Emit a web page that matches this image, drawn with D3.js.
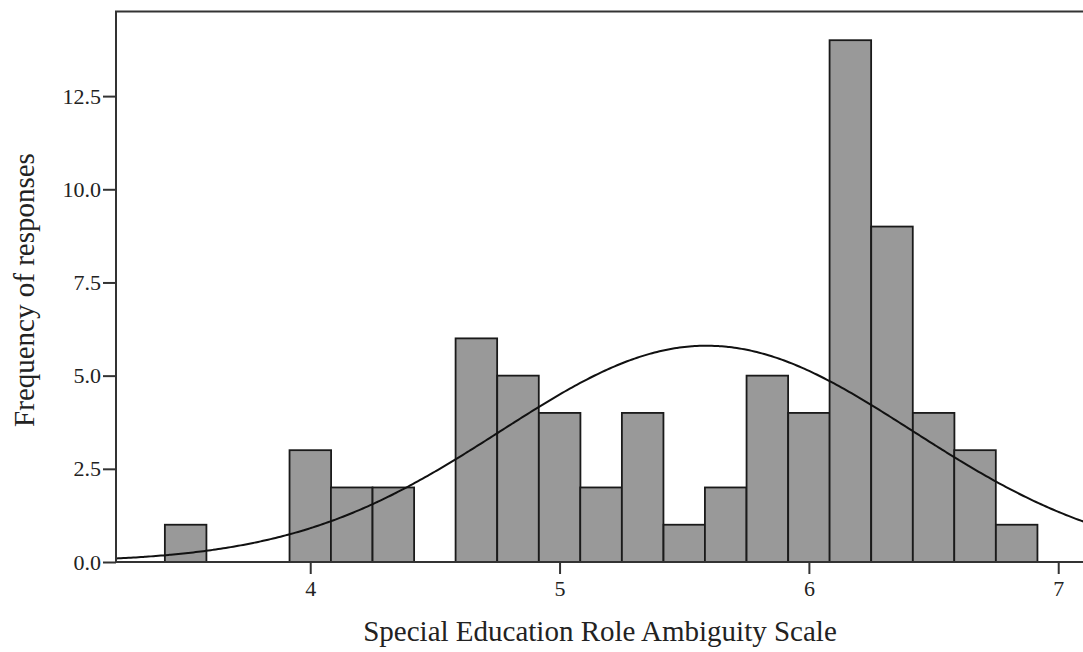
<!DOCTYPE html>
<html>
<head>
<meta charset="utf-8">
<script src="https://cdn.jsdelivr.net/npm/d3@7"></script>
<style>
  body { margin: 0; background: #fff; }
  svg text { font-family: "Liberation Serif", "Times New Roman", serif; fill: #222; }
</style>
</head>
<body>
<div id="chart-area"></div>
<script>
// histogram bins (lower edge of each bin) and counts
const binStarts = [3.417, 3.917, 4.083, 4.25, 4.583, 4.75, 4.917, 5.083, 5.25,
                   5.417, 5.583, 5.75, 5.917, 6.083, 6.25, 6.417, 6.583, 6.75];
const counts = [1, 3, 2, 2, 6, 5, 4, 2, 4, 1, 2, 5, 4, 14, 9, 4, 3, 1];
const binWidth = 1 / 6;

// fitted normal curve
const fitMean = 5.59;
const fitSd = 0.825;
const fitN = 72;

const xTicks = [4, 5, 6, 7];
const yTicks = [0, 2.5, 5, 7.5, 10, 12.5];

const width = 1083;
const height = 652;
const margin = { left: 116, right: -6, top: 11.5, bottom: 90 };
const chartWidth = width - margin.left - margin.right;
const chartHeight = height - margin.top - margin.bottom;

const svg = d3.select('#chart-area')
    .append('svg')
    .attr('width', width)
    .attr('height', height);

const g = svg.append('g')
    .attr('transform', `translate(${margin.left}, ${margin.top})`);

const x = d3.scaleLinear()
    .domain([3.221, 3.221 + chartWidth / 249.33])
    .range([0, chartWidth]);

const y = d3.scaleLinear()
    .domain([0, 14.77])
    .range([chartHeight, 0]);

const bins = binStarts.map((b, i) => ({ x0: b, x1: b + binWidth, n: counts[i] }));

g.selectAll('rect.bar')
    .data(bins)
    .enter()
    .append('rect')
    .attr('class', 'bar')
    .attr('x', d => x(d.x0))
    .attr('y', d => y(d.n))
    .attr('width', d => x(d.x1) - x(d.x0))
    .attr('height', d => chartHeight - y(d.n))
    .attr('fill', '#999999')
    .attr('stroke', '#1a1a1a')
    .attr('stroke-width', 1.8);

// normal curve
const curveX = d3.range(x.domain()[0], x.domain()[1] + 0.01, 0.01);
const dens = v => fitN * binWidth / (fitSd * Math.sqrt(2 * Math.PI)) *
    Math.exp(-0.5 * Math.pow((v - fitMean) / fitSd, 2));

g.append('path')
    .datum(curveX)
    .attr('fill', 'none')
    .attr('stroke', '#111')
    .attr('stroke-width', 2)
    .attr('d', d3.line().x(d => x(d)).y(d => y(dens(d))).curve(d3.curveBasis));

// frame
g.append('rect')
    .attr('x', 0)
    .attr('y', 0)
    .attr('width', chartWidth)
    .attr('height', chartHeight)
    .attr('fill', 'none')
    .attr('stroke', '#333')
    .attr('stroke-width', 2);

const xAxis = d3.axisBottom(x)
    .tickValues(xTicks)
    .tickFormat(d3.format('d'))
    .tickSize(12)
    .tickSizeOuter(0)
    .tickPadding(6);
const xg = g.append('g')
    .attr('class', 'x axis')
    .attr('transform', `translate(0, ${chartHeight})`)
    .call(xAxis);

const yAxis = d3.axisLeft(y)
    .tickValues(yTicks)
    .tickFormat(d3.format('.1f'))
    .tickSize(13)
    .tickSizeOuter(0)
    .tickPadding(2);
const yg = g.append('g')
    .attr('class', 'y axis')
    .call(yAxis);

[xg, yg].forEach(a => {
    a.select('.domain').remove();
    a.selectAll('line').attr('stroke', '#333').attr('stroke-width', 2);
    a.selectAll('text').style('font-size', '22px').attr('fill', '#222');
});

svg.append('text')
    .attr('x', 600)
    .attr('y', 641)
    .attr('text-anchor', 'middle')
    .style('font-size', '29px')
    .text('Special Education Role Ambiguity Scale');

svg.append('text')
    .attr('transform', 'translate(34, 290) rotate(-90)')
    .attr('text-anchor', 'middle')
    .style('font-size', '29px')
    .text('Frequency of responses');
</script>
</body>
</html>
